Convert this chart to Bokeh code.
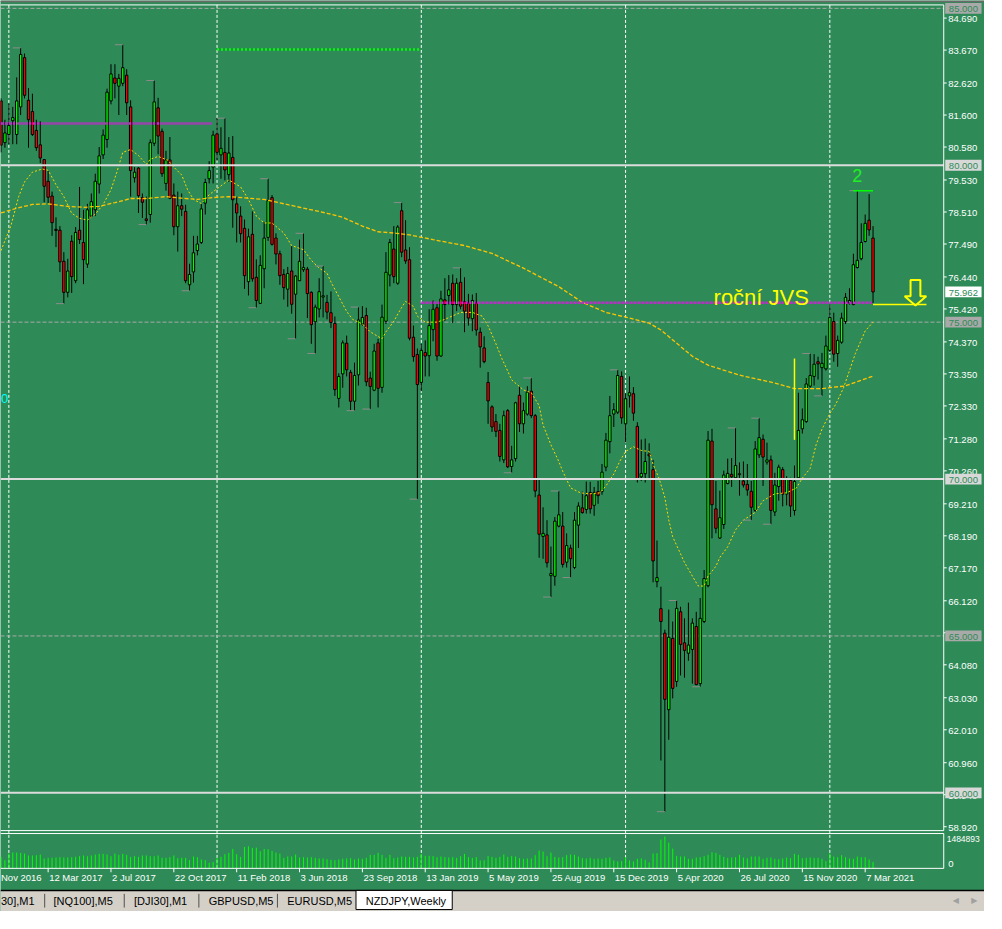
from bokeh.plotting import figure
from bokeh.models import Range1d, ColumnDataSource
from bokeh.core.properties import value
from bokeh.embed import file_html
from bokeh.resources import INLINE

# ------------------------------------------------------------------ data
# NZDJPY weekly candles (index 0 = week of ~20 Nov 2016 ... 222 = last week)
open_ = [
    82.05, 80.72, 80.98, 81.42, 80.98, 81.86, 83.43, 82.07, 81.71, 81.11,
    80.65, 80.18, 79.49, 79.02, 77.96, 77.93, 76.94, 75.95, 77.58, 76.32,
    77.93, 77.54, 76.85, 78.38, 78.58, 79.40, 80.33, 80.82, 82.05, 82.78,
    82.52, 82.61, 82.87, 81.86, 79.60, 79.91, 78.97, 78.29, 78.43, 80.70,
    81.83, 81.08, 79.42, 80.17, 79.05, 78.04, 78.71, 78.53, 76.19, 76.60,
    77.28, 77.54, 78.79, 79.57, 79.94, 81.00, 80.33, 80.41, 79.70, 80.25,
    78.77, 78.38, 77.99, 76.29, 77.80, 76.43, 75.60, 76.70, 77.70, 78.97,
    77.68, 77.18, 76.52, 76.05, 76.63, 75.89, 76.32, 76.67, 76.69, 75.95,
    75.01, 75.42, 75.80, 75.63, 75.30, 74.96, 72.57, 73.35, 74.33, 73.40,
    72.48, 73.32, 74.94, 75.21, 73.22, 72.83, 74.34, 72.92, 75.03, 76.50,
    77.33, 76.24, 78.55, 77.30, 76.99, 74.52, 73.97, 73.08, 74.03, 73.93,
    74.76, 75.46, 73.92, 75.71, 75.85, 76.24, 75.56, 76.27, 75.65, 75.61,
    75.11, 75.61, 74.68, 74.18, 73.08, 72.30, 71.83, 71.55, 70.61, 72.18,
    70.40, 70.65, 72.67, 71.76, 72.07, 72.80, 72.02, 69.49, 68.17, 68.22,
    66.92, 66.90, 68.50, 68.50, 67.35, 67.80, 67.18, 68.53, 69.08, 69.03,
    69.57, 69.16, 69.60, 69.60, 70.38, 71.19, 72.07, 72.13, 73.27, 71.76,
    72.65, 72.72, 71.68, 70.07, 70.17, 70.79, 70.30, 66.73, 65.87, 65.09,
    62.65, 64.92, 63.55, 65.77, 64.78, 64.45, 64.57, 65.30, 63.48, 65.46,
    66.60, 71.21, 69.05, 68.12, 68.55, 69.86, 70.15, 70.04, 70.14, 69.94,
    69.83, 69.61, 69.00, 70.77, 71.27, 70.54, 70.61, 68.95, 69.76, 70.30,
    69.52, 69.96, 69.00, 70.04, 71.60, 71.83, 72.96, 73.27, 73.74, 73.55,
    73.51, 74.10, 75.02, 74.00, 74.36, 75.02, 75.61, 75.56, 76.74, 77.02,
    77.57, 78.25, 77.68]
high = [
    82.13, 81.45, 81.97, 81.86, 82.80, 83.74, 83.56, 82.46, 82.28, 81.45,
    81.40, 80.18, 79.83, 79.16, 78.34, 78.06, 77.23, 77.02, 77.77, 78.03,
    79.31, 78.58, 78.77, 79.10, 79.73, 80.58, 81.14, 82.44, 83.22, 83.22,
    82.91, 83.84, 83.06, 82.07, 79.94, 79.94, 79.10, 79.00, 80.82, 82.70,
    82.15, 81.17, 80.46, 80.90, 79.42, 79.16, 79.10, 78.74, 76.86, 77.75,
    77.75, 78.77, 79.57, 80.13, 81.10, 81.50, 81.21, 81.50, 80.90, 80.93,
    79.00, 78.69, 78.27, 77.98, 78.53, 77.00, 77.13, 78.19, 79.57, 79.05,
    77.83, 77.28, 76.69, 76.76, 77.42, 76.50, 77.63, 77.83, 76.76, 75.98,
    75.56, 76.40, 76.79, 75.87, 75.98, 75.18, 73.37, 74.42, 74.57, 73.48,
    73.71, 75.48, 75.51, 75.46, 73.42, 74.31, 74.47, 75.56, 77.23, 77.65,
    78.06, 78.09, 78.81, 78.25, 77.39, 74.89, 74.16, 74.31, 74.42, 75.41,
    75.69, 75.58, 76.00, 76.40, 76.50, 76.52, 76.40, 76.73, 76.43, 75.90,
    75.88, 75.93, 74.83, 74.55, 73.41, 72.35, 72.07, 71.76, 72.18, 72.23,
    71.06, 72.46, 72.94, 72.44, 72.96, 73.22, 72.07, 69.99, 69.10, 68.69,
    67.85, 68.79, 69.62, 68.95, 68.27, 67.91, 68.95, 69.26, 69.60, 69.92,
    69.91, 69.75, 69.94, 70.48, 71.47, 72.65, 72.42, 73.48, 73.43, 72.73,
    73.27, 72.93, 71.81, 71.26, 71.29, 71.14, 70.61, 68.04, 66.57, 65.20,
    65.84, 65.46, 66.13, 65.93, 65.56, 66.06, 65.56, 65.77, 66.21, 67.10,
    71.53, 71.60, 69.94, 69.63, 70.27, 70.65, 70.67, 71.63, 70.53, 70.56,
    70.48, 69.94, 71.21, 71.94, 71.42, 71.16, 70.75, 70.20, 70.46, 70.38,
    70.09, 70.04, 70.43, 72.75, 72.25, 73.22, 74.00, 73.98, 73.90, 74.02,
    74.57, 75.56, 75.30, 74.57, 75.30, 75.93, 76.08, 77.18, 79.19, 78.15,
    78.43, 79.08, 78.06]
low = [
    80.41, 80.56, 80.67, 80.67, 80.67, 81.60, 82.13, 80.56, 80.93, 80.46,
    80.07, 78.82, 78.79, 77.75, 77.39, 76.60, 75.59, 75.79, 75.93, 76.24,
    77.49, 76.21, 76.73, 78.32, 78.38, 79.10, 80.20, 80.56, 81.94, 82.13,
    81.60, 82.52, 81.60, 79.00, 79.45, 78.48, 78.32, 78.11, 78.17, 80.61,
    80.35, 79.63, 79.19, 78.92, 77.77, 77.25, 78.38, 76.24, 76.00, 76.26,
    77.13, 77.49, 78.43, 79.42, 79.42, 80.15, 79.57, 79.52, 79.47, 78.01,
    77.54, 77.54, 76.06, 75.85, 76.29, 75.46, 75.58, 76.08, 77.59, 77.44,
    76.84, 76.19, 75.72, 75.49, 75.27, 74.47, 76.31, 76.60, 75.13, 74.31,
    74.00, 75.15, 75.15, 75.09, 74.81, 72.65, 72.28, 72.91, 73.27, 72.18,
    72.18, 72.98, 74.89, 72.96, 72.23, 72.80, 72.28, 72.75, 74.94, 76.14,
    76.24, 76.19, 77.07, 76.86, 74.42, 73.74, 69.36, 72.80, 73.27, 73.27,
    74.39, 73.77, 73.90, 75.04, 75.56, 74.97, 75.35, 75.41, 74.68, 74.89,
    74.71, 74.57, 73.55, 73.69, 71.76, 71.50, 71.34, 70.56, 70.51, 70.35,
    70.20, 70.56, 71.50, 71.45, 72.02, 71.94, 69.42, 67.49, 67.46, 67.18,
    66.24, 66.60, 68.46, 67.18, 67.18, 66.86, 67.13, 67.80, 68.90, 68.90,
    68.90, 68.83, 69.21, 69.50, 70.25, 70.82, 71.66, 72.07, 71.76, 71.17,
    72.28, 71.86, 69.89, 69.94, 69.89, 69.99, 66.71, 66.55, 61.03, 59.40,
    61.69, 63.01, 63.38, 63.74, 63.67, 64.21, 63.48, 63.43, 63.38, 65.41,
    66.55, 68.11, 68.27, 68.09, 68.41, 69.83, 69.75, 69.99, 69.47, 69.73,
    69.47, 68.69, 68.95, 70.67, 69.78, 70.46, 68.56, 68.82, 69.31, 69.13,
    69.16, 68.79, 68.84, 70.02, 71.45, 71.79, 72.91, 72.98, 73.17, 72.65,
    73.46, 74.05, 73.74, 73.58, 74.31, 74.94, 75.56, 75.54, 76.71, 76.97,
    77.54, 77.75, 75.61]
close = [
    80.64, 81.03, 81.27, 81.52, 82.05, 83.53, 82.23, 81.45, 80.98, 80.56,
    80.23, 79.33, 78.98, 78.17, 77.92, 76.92, 75.95, 76.63, 76.45, 77.86,
    77.63, 76.99, 78.58, 78.84, 79.49, 80.30, 80.96, 82.33, 82.91, 82.61,
    82.77, 83.11, 81.99, 79.83, 79.78, 79.03, 78.82, 78.24, 80.72, 82.02,
    80.93, 79.73, 80.17, 78.95, 78.04, 78.71, 78.60, 76.32, 76.52, 77.21,
    77.49, 78.61, 79.45, 79.83, 80.96, 80.41, 80.54, 79.85, 80.39, 78.90,
    78.48, 77.82, 76.48, 77.72, 76.38, 75.69, 76.81, 77.68, 78.87, 77.48,
    77.17, 76.48, 76.10, 76.55, 75.57, 76.47, 76.94, 76.74, 75.91, 74.92,
    75.48, 75.97, 75.84, 75.32, 74.99, 72.85, 73.27, 74.34, 73.48, 72.48,
    73.30, 75.07, 75.15, 73.10, 72.95, 74.08, 72.89, 75.16, 76.59, 77.54,
    76.45, 78.03, 77.23, 76.95, 74.49, 73.90, 73.01, 74.10, 73.92, 74.89,
    75.41, 73.92, 75.74, 75.56, 76.03, 75.56, 76.24, 75.51, 75.35, 75.13,
    75.69, 74.75, 74.21, 73.74, 72.49, 71.66, 71.52, 70.72, 72.02, 70.39,
    70.61, 72.43, 71.76, 72.18, 72.77, 72.02, 69.62, 68.24, 68.27, 67.33,
    66.99, 68.66, 68.86, 67.28, 67.88, 67.46, 68.69, 69.14, 68.93, 69.47,
    69.05, 69.57, 69.47, 70.22, 71.24, 72.02, 72.21, 73.30, 71.95, 72.56,
    72.75, 72.10, 69.99, 70.18, 70.56, 70.74, 67.39, 66.86, 65.46, 62.98,
    64.96, 63.33, 65.88, 64.73, 64.54, 64.71, 65.41, 63.45, 65.56, 66.83,
    71.24, 69.18, 68.43, 68.77, 70.13, 70.18, 70.07, 70.43, 70.17, 69.81,
    69.65, 69.10, 70.96, 71.32, 70.70, 70.61, 69.00, 69.81, 70.38, 69.52,
    69.99, 69.14, 69.92, 71.55, 71.89, 73.03, 73.30, 73.66, 73.67, 73.69,
    74.24, 75.15, 73.98, 74.42, 75.13, 75.79, 75.69, 76.83, 76.97, 77.54,
    78.15, 77.94, 75.962]
# tick volume, thousands
volume_k = [
    536, 383, 690, 736, 736, 720, 690, 598, 598, 613,
    644, 460, 490, 490, 506, 521, 506, 506, 521, 536,
    567, 598, 567, 598, 644, 674, 674, 644, 567, 690,
    628, 674, 628, 536, 567, 536, 598, 598, 567, 567,
    598, 490, 490, 521, 598, 475, 490, 490, 383, 552,
    521, 414, 383, 260, 291, 490, 536, 659, 720, 904,
    659, 536, 996, 1027, 950, 965, 797, 904, 889, 812,
    736, 690, 490, 552, 552, 644, 506, 521, 506, 521,
    490, 460, 460, 429, 398, 383, 414, 444, 460, 475,
    414, 460, 444, 490, 628, 628, 720, 628, 490, 628,
    475, 506, 552, 536, 536, 506, 536, 674, 582, 582,
    567, 521, 552, 521, 506, 521, 490, 567, 674, 521,
    490, 521, 368, 383, 567, 536, 490, 536, 644, 536,
    567, 552, 475, 444, 460, 460, 613, 827, 782, 567,
    736, 536, 506, 521, 613, 644, 628, 552, 475, 460,
    490, 444, 460, 444, 490, 506, 368, 322, 337, 521,
    368, 322, 444, 460, 398, 276, 690, 705, 1348, 1484.893,
    1195, 919, 582, 552, 552, 444, 444, 506, 521, 567,
    628, 751, 720, 628, 536, 490, 506, 521, 628, 506,
    475, 552, 552, 552, 444, 490, 506, 444, 429, 460,
    506, 475, 674, 628, 475, 490, 506, 490, 490, 444,
    337, 690, 552, 521, 613, 521, 460, 444, 552, 521,
    521, 414, 291]

# moving averages (bar index, price)
ma_fast_idx = [0, 2.5, 4.5, 6, 8, 10.5, 12, 14, 16, 18,
               20, 22, 24, 26, 28, 29.5, 31, 33, 35, 37,
               38, 40, 42.5, 44, 46, 47.5, 49, 51, 53, 55,
               58, 61, 63, 65, 67, 69, 72, 74, 77, 79,
               81, 83, 84, 86, 88, 89.5, 92, 94, 97, 98,
               100, 102, 103, 105, 106, 108, 111, 113, 117, 120,
               122.5, 124, 126, 127.5, 129, 130, 133, 135, 137, 138,
               140, 142, 143, 145, 147.5, 150, 152.5, 154, 156, 157.5,
               159, 161, 163, 165, 166, 167.5, 169, 170, 171, 172.5,
               174, 176, 177.5, 179, 180, 182, 183, 185, 187, 189,
               192, 194, 197, 200, 202.5, 204, 206, 207.5, 209, 211,
               212.5, 214.5, 217.5, 220, 222]
ma_fast = [77.28, 78.06, 79.00, 79.47, 79.78, 79.88, 79.84, 79.38, 79.00, 78.47,
           78.31, 78.25, 78.44, 78.75, 79.22, 79.78, 80.41, 80.50, 80.31, 80.03,
           80.19, 80.28, 80.16, 79.94, 79.69, 79.22, 78.91, 78.78, 79.06, 79.25,
           79.53, 79.31, 78.91, 78.38, 78.16, 78.16, 77.84, 77.44, 77.31, 76.97,
           76.72, 76.56, 76.28, 75.81, 75.34, 75.09, 74.94, 74.69, 74.47, 74.69,
           75.03, 75.47, 75.66, 75.50, 75.19, 75.00, 75.00, 75.09, 75.31, 75.31,
           75.19, 74.88, 74.31, 73.84, 73.44, 73.16, 72.84, 72.75, 72.34, 71.72,
           71.09, 70.56, 70.25, 69.72, 69.56, 69.53, 69.56, 69.78, 70.16, 70.56,
           70.88, 71.03, 70.91, 70.88, 70.47, 70.03, 69.41, 68.69, 68.16, 67.75,
           67.34, 66.91, 66.59, 66.59, 66.91, 67.22, 67.50, 67.84, 68.38, 68.69,
           68.94, 69.31, 69.53, 69.56, 69.72, 70.03, 70.34, 71.09, 71.59, 72.09,
           72.38, 72.91, 74.00, 74.72, 75.00]
ma_slow_idx = [0, 4, 8, 12, 17, 21, 25, 29, 33, 37,
               42, 46, 50, 54, 58, 67, 75, 83, 87, 92,
               96, 100, 104, 110, 118, 125, 133, 142, 148, 154,
               160, 165, 168, 176, 180, 188, 197, 202, 209, 215,
               222]
ma_slow = [78.48, 78.63, 78.75, 78.77, 78.69, 78.66, 78.69, 78.81, 78.94, 78.94,
           79.00, 78.95, 78.91, 78.97, 79.00, 78.91, 78.69, 78.47, 78.34, 78.06,
           77.88, 77.84, 77.78, 77.63, 77.44, 77.19, 76.72, 76.13, 75.63, 75.31,
           75.13, 74.97, 74.75, 73.91, 73.63, 73.31, 73.06, 72.88, 72.88, 72.97,
           73.28]

swing_high_idx = [5, 31, 39, 57, 68, 77, 82, 91, 102, 117, 135, 142, 157, 172, 187, 193, 206, 218]
swing_low_idx = [16, 37, 48, 65, 75, 80, 90, 94, 106, 130, 140, 145, 169, 178, 191, 196, 209]

date_tick_idx = [-4, 12, 28, 44, 60, 76, 92, 108, 124, 140, 156, 172, 188, 204, 220]
date_labels = ["20 Nov 2016", "12 Mar 2017", "2 Jul 2017", "22 Oct 2017", "11 Feb 2018",
               "3 Jun 2018", "23 Sep 2018", "13 Jan 2019", "5 May 2019", "25 Aug 2019",
               "15 Dec 2019", "5 Apr 2020", "26 Jul 2020", "15 Nov 2020", "7 Mar 2021"]
year_start_idx = [2, 55, 107, 159, 211]

price_ticks = [84.69, 83.67, 82.62, 81.60, 80.58, 79.53, 78.51, 77.49, 76.44, 75.42,
               74.37, 73.35, 72.33, 71.28, 70.26, 69.21, 68.19, 67.17, 66.12, 65.10,
               64.08, 63.03, 62.01, 60.96, 59.94, 58.92]
hline_solid = [80.0, 70.0, 60.0]
hline_dashed = [85.0, 75.0, 65.0]

# yearly levels ("roční JVS") : start bar, end bar, level
jvs_start = [0, 55, 107]
jvs_end = [54, 106.5, 222]
jvs_level = [81.33, 83.69, 75.62]

# hand-drawn objects on the chart
vline_idx, vline_lo, vline_hi = 202, 71.25, 73.84
hseg_start, hseg_end, hseg_level = 222, 235.6, 75.56
arrow_idx, arrow_price = 232.8, 75.53
label_text, label_idx, label_price = "roční JVS", 181.4, 75.78
wave_label, wave_idx = "2", 218
edge_label = "0"

tab_labels = ["30],M1", "[NQ100],M5", "[DJI30],M1", "GBPUSD,M5", "EURUSD,M5", "NZDJPY,Weekly"]

# ------------------------------------------------------------------ layout (reference pixel grid)
REF_W, REF_H = 1002, 929
OUT_W, OUT_H = 984, 911
BAR_PX, BAR_X0 = 4.0, 0.5
P_REF, P_REF_Y, P_PX = 85.0, 8.0, 32.0
AXIS_X = 960.5
PANEL_TOP, PANEL_BOT = 4.5, 846.5
VOL_TOP, VOL_BOT, VOL_MAX_Y = 849.5, 885.0, 852.5
TAB_TOP = 907.5
tab_x = [0.5, 54, 136, 212, 292, 372]
tab_sep_x = [45, 126, 202, 282]

BG = "#2E8B57"
FONT = value("Liberation Sans")
AX_FS = "9.5px"

n = len(close)
idx = list(range(n))
volume = [v * 1000 for v in volume_k]
vmax = max(volume)
vol_per_px = vmax / (VOL_BOT - VOL_MAX_Y)

x_range = Range1d((0 - BAR_X0) / BAR_PX, (REF_W - BAR_X0) / BAR_PX)
p = figure(width=OUT_W, height=OUT_H, x_range=x_range,
           y_range=Range1d(P_REF - (REF_H - P_REF_Y) / P_PX, P_REF + P_REF_Y / P_PX),
           output_backend="svg", toolbar_location=None, tools="",
           x_axis_location=None, y_axis_location=None, title=None,
           min_border=0, background_fill_color=BG, border_fill_color=BG,
           outline_line_color=None)
p.extra_x_ranges = {"px": Range1d(0, REF_W)}
p.extra_y_ranges = {"px": Range1d(REF_H, 0),
                    "vol": Range1d(-(REF_H - VOL_BOT) * vol_per_px, VOL_BOT * vol_per_px)}
p.grid.visible = False

# window top edge
p.quad(left=0, right=REF_W, top=0, bottom=1.7, x_range_name="px", y_range_name="px",
       fill_color="#6A6A6A", line_color=None)

# year separators
p.segment(x0=year_start_idx, x1=year_start_idx, y0=PANEL_TOP, y1=VOL_BOT, y_range_name="px",
          line_color="white", line_width=1, line_dash="3 2")

# dashed horizontal lines
p.segment(x0=0, x1=AXIS_X, y0=hline_dashed, y1=hline_dashed, x_range_name="px",
          line_color="#A9A9A9", line_width=1, line_dash="4 2")

src = ColumnDataSource(dict(
    x=idx, h=high, l=low,
    top=[max(a, b) for a, b in zip(open_, close)],
    bot=[min(a, b) for a, b in zip(open_, close)],
    fill=["#00FF00" if c >= o else "#FF0000" for o, c in zip(open_, close)],
    vol=volume))

# volumes
p.segment(x0="x", x1="x", y0=0, y1="vol", y_range_name="vol", source=src,
          line_color="#00FF00", line_width=1)

# candles
p.segment(x0="x", x1="x", y0="l", y1="h", source=src, line_color="black", line_width=1)
p.vbar(x="x", width=0.6, top="top", bottom="bot", source=src,
       fill_color="fill", line_color="black", line_width=1)

# moving averages
p.line(ma_slow_idx, ma_slow, line_color="#FFC400", line_width=1.3, line_dash="4 2")
p.line(ma_fast_idx, ma_fast, line_color="#FFD700", line_width=1, line_dash="2 2")

# solid horizontal lines
p.segment(x0=0, x1=AXIS_X, y0=hline_solid, y1=hline_solid, x_range_name="px",
          line_color="#DCDCDC", line_width=2)

# yearly levels
p.segment(x0=jvs_start, x1=jvs_end, y0=jvs_level, y1=jvs_level,
          line_color=["#FF00FF", "#00FF00", "#FF00FF"], line_width=2.5, line_dash="2 2")

# swing markers
p.segment(x0=[i - 2 for i in swing_high_idx], x1=swing_high_idx,
          y0=[high[i] for i in swing_high_idx], y1=[high[i] for i in swing_high_idx],
          line_color="#8C8C8C", line_width=1)
p.segment(x0=[i - 2 for i in swing_low_idx], x1=swing_low_idx,
          y0=[low[i] for i in swing_low_idx], y1=[low[i] for i in swing_low_idx],
          line_color="#8C8C8C", line_width=1)

# drawn objects
p.segment(x0=[vline_idx], x1=[vline_idx], y0=[vline_lo], y1=[vline_hi],
          line_color="#FFFF00", line_width=1.5)
p.segment(x0=[hseg_start], x1=[hseg_end], y0=[hseg_level], y1=[hseg_level],
          line_color="#FFFF00", line_width=1.5)
ax_ = [0, 11, 5, 5, -5, -5, -11]
ay_ = [0, 9.5, 9.5, 26, 26, 9.5, 9.5]
p.patch([arrow_idx + a / BAR_PX for a in ax_], [arrow_price + b / P_PX for b in ay_],
        fill_alpha=0, line_color="#FFFF00", line_width=2)
p.segment(x0=[wave_idx - 1], x1=[wave_idx + 4], y0=[high[wave_idx]], y1=[high[wave_idx]],
          line_color="#00FF00", line_width=1.5)
p.text(x=[wave_idx], y=[high[wave_idx]], text=[wave_label], text_font=FONT,
       text_font_size="18px", text_color="#22EE22", text_align="center",
       text_baseline="bottom", y_offset=-9)
p.text(x=[label_idx], y=[label_price], text=[label_text], text_font=FONT,
       text_font_size="22px", text_color="#FFFF00", text_align="left",
       text_baseline="alphabetic")
p.text(x=[0.5], y=[406], text=[edge_label], x_range_name="px", y_range_name="px",
       text_font=FONT, text_font_size="13px", text_color="#00FFFF",
       text_align="left", text_baseline="middle")

# panel frames
p.segment(x0=0, x1=AXIS_X, y0=[PANEL_TOP, PANEL_BOT, VOL_TOP, VOL_BOT],
          y1=[PANEL_TOP, PANEL_BOT, VOL_TOP, VOL_BOT],
          x_range_name="px", y_range_name="px", line_color="white", line_width=1)
p.segment(x0=[AXIS_X, AXIS_X], x1=[AXIS_X, AXIS_X], y0=[PANEL_TOP, VOL_TOP],
          y1=[PANEL_BOT, VOL_BOT], x_range_name="px", y_range_name="px",
          line_color="white", line_width=1)

# price scale
p.segment(x0=AXIS_X, x1=AXIS_X + 3, y0=price_ticks, y1=price_ticks, x_range_name="px",
          line_color="white", line_width=1)
p.text(x=[AXIS_X + 4.5] * len(price_ticks), y=price_ticks,
       text=[f"{v:.3f}" for v in price_ticks], x_range_name="px",
       text_font=FONT, text_font_size=AX_FS, text_color="white",
       text_baseline="middle", y_offset=1)
BOX_X, BOX_W, BOX_H = 980.5, 37, 11 / P_PX
p.rect(x=[BOX_X] * 3, y=hline_solid, width=BOX_W, height=BOX_H, x_range_name="px",
       fill_color="#D8D8D8", line_color=None)
p.rect(x=[BOX_X] * 3, y=hline_dashed, width=BOX_W, height=BOX_H, x_range_name="px",
       fill_color="#A9A9A9", line_color=None)
p.rect(x=[BOX_X], y=[close[-1]], width=BOX_W, height=BOX_H, x_range_name="px",
       fill_color="white", line_color=None)
box_vals = hline_solid + hline_dashed + [close[-1]]
p.text(x=[BOX_X] * len(box_vals), y=box_vals, text=[f"{v:.3f}" for v in box_vals],
       x_range_name="px", text_font=FONT, text_font_size=AX_FS, text_color=BG,
       text_align="center", text_baseline="middle", y_offset=1)

# volume scale
p.text(x=[AXIS_X + 3], y=[vmax], text=[str(int(round(vmax)))], x_range_name="px",
       y_range_name="vol", text_font=FONT, text_font_size="8.5px", text_color="white",
       text_baseline="top")
p.text(x=[AXIS_X + 4.5], y=[0], text=["0"], x_range_name="px", y_range_name="vol",
       text_font=FONT, text_font_size=AX_FS, text_color="white", text_baseline="bottom",
       y_offset=-1)

# time scale (a label whose tick lies left of the view shows its visible tail at the edge)
in_view = [t >= x_range.start for t in date_tick_idx]
vis_ticks = [t for t, ok in zip(date_tick_idx, in_view) if ok]
vis_labels = [s for s, ok in zip(date_labels, in_view) if ok]
p.segment(x0=vis_ticks, x1=vis_ticks, y0=VOL_BOT, y1=VOL_BOT + 4, y_range_name="px",
          line_color="white", line_width=1)
p.text(x=vis_ticks, y=[VOL_BOT + 9] * len(vis_ticks), text=vis_labels,
       y_range_name="px", text_font=FONT, text_font_size=AX_FS, text_color="white",
       text_align="left", text_baseline="middle", x_offset=1)
edge_labels = [s.split(" ", 1)[1] for s, ok in zip(date_labels, in_view) if not ok]
p.text(x=[0.5] * len(edge_labels), y=[VOL_BOT + 9] * len(edge_labels), text=edge_labels,
       x_range_name="px", y_range_name="px", text_font=FONT, text_font_size=AX_FS,
       text_color="white", text_align="left", text_baseline="middle")

# tab bar
p.quad(left=0, right=REF_W, top=TAB_TOP, bottom=REF_H, x_range_name="px", y_range_name="px",
       fill_color="#D4D0C8", line_color=None)
p.segment(x0=0, x1=REF_W, y0=TAB_TOP, y1=TAB_TOP, x_range_name="px", y_range_name="px",
          line_color="black", line_width=1.5)
p.quad(left=362, right=460, top=TAB_TOP, bottom=927, x_range_name="px", y_range_name="px",
       fill_color="white", line_color="black", line_width=1)
p.segment(x0=tab_sep_x, x1=tab_sep_x, y0=911, y1=925, x_range_name="px", y_range_name="px",
          line_color="#505050", line_width=1)
p.text(x=tab_x, y=[918] * len(tab_x), text=tab_labels, x_range_name="px", y_range_name="px",
       text_font=FONT, text_font_size="11px", text_color="black", text_baseline="middle")
p.text(x=[972.7, 991.7], y=[918, 918], text=["\u25C0", "\u25B6"], x_range_name="px",
       y_range_name="px", text_font=value("DejaVu Sans"), text_font_size="8px",
       text_color="#A0A0A0", text_align="center", text_baseline="middle")

open("out.html", "w", encoding="utf-8").write(file_html(p, INLINE))
